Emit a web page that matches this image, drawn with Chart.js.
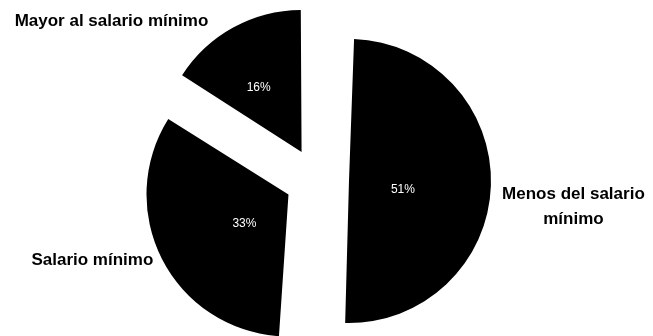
<!DOCTYPE html>
<html lang="es">
<head>
  <meta charset="UTF-8">
  <title>Nivel de ingresos respecto al salario mínimo</title>
  <script src="https://cdn.jsdelivr.net/npm/chart.js"></script>
  <style>
    body {
      margin: 0;
      background-color: #ffffff;
    }
    #contenedor {
      width: 653px;
      height: 336px;
    }
  </style>
</head>
<body>

  <div id="contenedor">
    <canvas id="graficoTorta" width="653" height="336"></canvas>
  </div>

  <script>
    // datos (porcentajes)
    const categorias = [
      ['Menos del salario', 'mínimo'],
      ['Salario mínimo'],
      ['Mayor al salario mínimo']
    ];
    const porcentajes = [51, 33, 16];
    const colores = ['#000000', '#000000', '#000000'];

    const RADIO = 142;
    const SEPARACION = 128; // chart.js desplaza offset/4

    // ajustes finos de donde cae cada texto respecto al punto calculado
    const ajusteNombre = [[-3, 8], [4, -5], [-18, 6]];
    const ajustePorcentaje = [[0, 7], [4, 5], [-6, 3]];

    // el arco mayor de media vuelta crece con el offset; lo corregimos
    const corregirRadio = {
      id: 'corregirRadio',
      beforeDatasetsDraw(chart) {
        const meta = chart.getDatasetMeta(0);
        meta.data.forEach(arco => {
          const off = (arco.options.offset || 0) / 4;
          const fix = 1 - Math.sin(Math.min(Math.PI, arco.circumference));
          arco.outerRadius = RADIO - off * fix;
        });
      }
    };

    const etiquetas = {
      id: 'etiquetas',
      afterDatasetsDraw(chart) {
        const ctx = chart.ctx;
        const meta = chart.getDatasetMeta(0);
        meta.data.forEach((arco, i) => {
          const medio = (arco.startAngle + arco.endAngle) / 2;
          const off = (arco.options.offset || 0) / 4;
          const cx = arco.x + Math.cos(medio) * off;
          const cy = arco.y + Math.sin(medio) * off;
          const c = Math.cos(medio);
          const s = Math.sin(medio);

          // porcentaje dentro del sector
          const f = porcentajes[i] < 20 ? 0.54 : 0.38;
          ctx.save();
          ctx.fillStyle = '#ffffff';
          ctx.font = '12px "Liberation Sans", Arial, sans-serif';
          ctx.textAlign = 'center';
          ctx.textBaseline = 'middle';
          ctx.fillText(porcentajes[i] + '%',
            cx + c * RADIO * f + ajustePorcentaje[i][0],
            cy + s * RADIO * f + ajustePorcentaje[i][1]);

          // nombre de la categoria fuera del sector
          ctx.fillStyle = '#000000';
          ctx.font = 'bold 17px "Liberation Sans", Arial, sans-serif';
          const lineas = categorias[i];
          const ancho = Math.max(...lineas.map(l => ctx.measureText(l).width));
          const ax = cx + c * RADIO * 1.1 + ajusteNombre[i][0];
          const ay = cy + s * RADIO * 1.1 + ajusteNombre[i][1];
          const centroX = c >= 0 ? ax + ancho / 2 : ax - ancho / 2;
          lineas.forEach((l, j) => {
            ctx.fillText(l, centroX, ay + j * 25);
          });
          ctx.restore();
        });
      }
    };

    new Chart(document.getElementById('graficoTorta'), {
      type: 'pie',
      data: {
        labels: categorias.map(l => l.join(' ')),
        datasets: [{
          data: porcentajes,
          backgroundColor: colores,
          borderWidth: 0,
          offset: SEPARACION,
          hoverOffset: SEPARACION,
          radius: RADIO
        }]
      },
      options: {
        responsive: false,
        animation: false,
        events: [],
        layout: {
          padding: { top: 24, right: 19, bottom: 0, left: 0 }
        },
        plugins: {
          legend: { display: false },
          tooltip: { enabled: false }
        }
      },
      plugins: [corregirRadio, etiquetas]
    });
  </script>

</body>
</html>
